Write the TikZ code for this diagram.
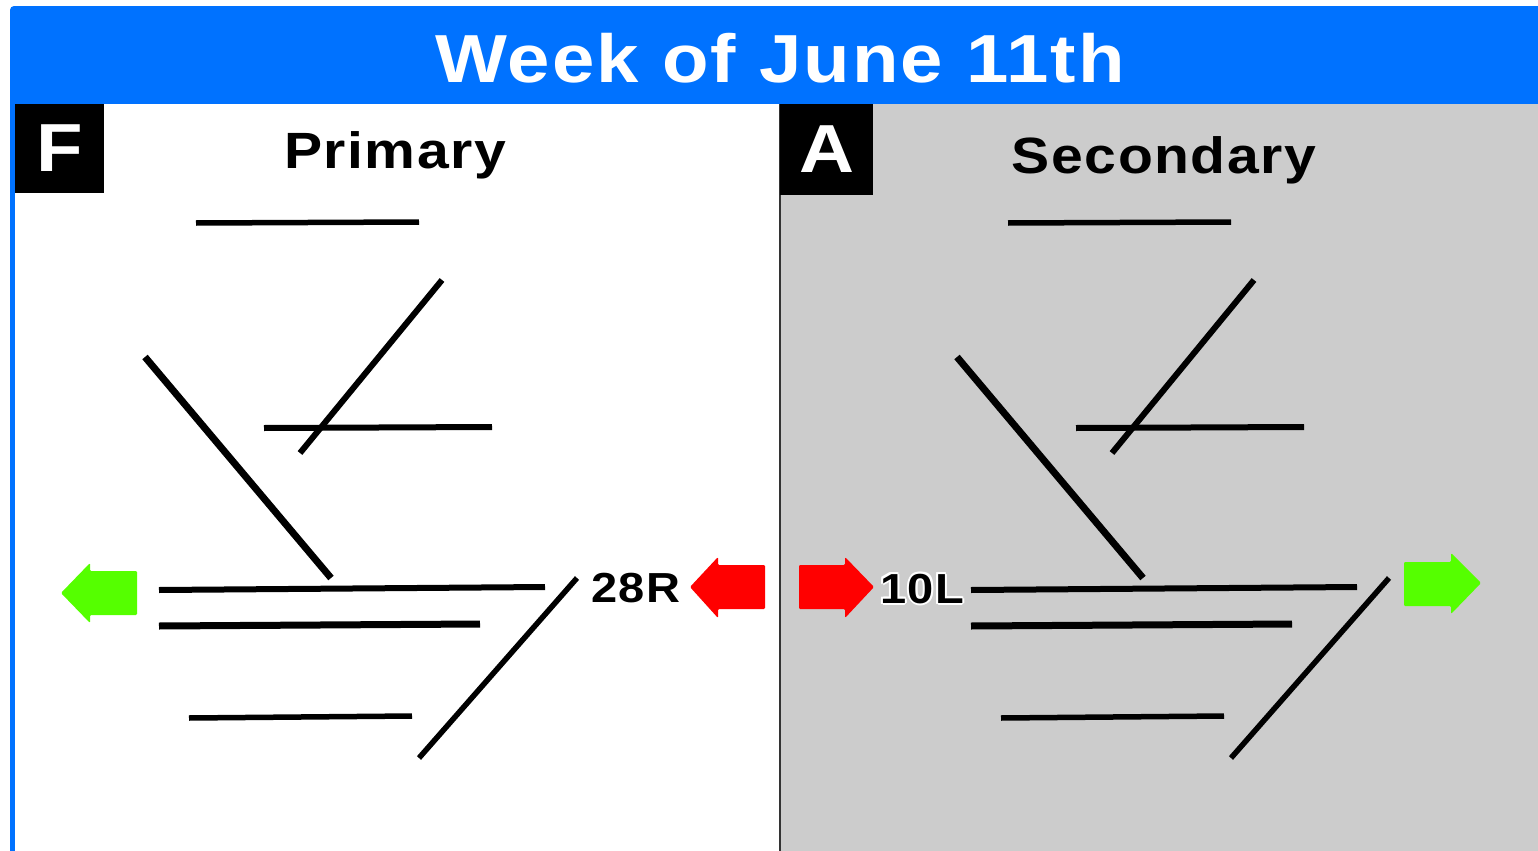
\documentclass[tikz,border=0pt]{standalone}
\usepackage{fontspec}
\setmainfont{Liberation Sans}[LetterSpace=3, FakeStretch=1.12]
\usepackage{tikz}
\usetikzlibrary{calc}
\definecolor{headblue}{RGB}{0,114,255}
\definecolor{padgray}{RGB}{204,204,204}
\definecolor{windgreen}{RGB}{85,255,0}
\definecolor{flowred}{RGB}{255,0,0}
\tikzset{
  runway/.style = {line width=2.75pt, black},
  windarrow/.style = {fill=windgreen, rounded corners=0.6pt},
  flowarrow/.style = {fill=flowred, rounded corners=0.6pt},
  tagbox/.style = {fill=black, text=white, inner sep=0pt, font=\bfseries\fontsize{34}{40}\selectfont},
  lbl/.style = {inner sep=0pt, anchor=base, font=\bfseries\fontsize{21}{24}\selectfont}
}
\begin{document}
\begin{tikzpicture}[x = .5pt, y = -.5pt]
    \useasboundingbox (0,0) rectangle (1538,851);
    \fill[headblue, rounded corners=2pt] (10,6) rectangle (1570,890);
    \fill[white] (15,104) rectangle (779,851);
    \fill[padgray] (780,104) rectangle (1538,851);
    \draw[line width=1pt, black!80] (779.5,104) -- (779.5,851);
    \node[inner sep=0pt, anchor=base, text=white, font=\bfseries\fontsize{34}{40}\selectfont] (title) at (780,82) {Week of June 11th};
    \node[tagbox, minimum width=44.5pt, minimum height=44.5pt] (fbox) at (59.5,148.5) {F};
    \node[tagbox, minimum width=46.5pt, minimum height=45.5pt] (abox) at (826.5,149.5) {A};
    \node[lbl, font=\bfseries\fontsize{25.5}{30}\selectfont] (primary) at (395,168) {Primary};
    \node[lbl, font=\bfseries\fontsize{25.5}{30}\selectfont] (secondary) at (1164,173) {Secondary};
    % primary runways
    \draw[runway] (196,223) -- (419,222);
    \draw[runway, line width=3pt] (442,280) -- (300,453);
    \draw[runway, line width=3pt] (264,428) -- (492,427);
    \draw[runway, line width=3.5pt] (145,357) -- (331,578);
    \draw[runway, line width=3pt] (159,590) -- (545,587);
    \draw[runway, line width=3.5pt] (159,626) -- (480,624);
    \draw[runway] (189,718) -- (412,716);
    \draw[runway] (419,758) -- (577,578);
    % secondary runways
    \draw[runway] (1008,223) -- (1231,222);
    \draw[runway, line width=3pt] (1254,280) -- (1112,453);
    \draw[runway, line width=3pt] (1076,428) -- (1304,427);
    \draw[runway, line width=3.5pt] (957,357) -- (1143,578);
    \draw[runway, line width=3pt] (971,590) -- (1357,587);
    \draw[runway, line width=3.5pt] (971,626) -- (1292,624);
    \draw[runway] (1001,718) -- (1224,716);
    \draw[runway] (1231,758) -- (1389,578);
    % arrows
    \fill[windarrow] (137,571) -- (90,571) -- (90,563) -- (61,593) -- (90,623) -- (90,615) -- (137,615) -- cycle;
    \fill[flowarrow] (765,565) -- (718,565) -- (718,557) -- (690,587) -- (718,618) -- (718,609) -- (765,609) -- cycle;
    \fill[flowarrow] (799,565) -- (845,565) -- (845,557) -- (874,587) -- (845,618) -- (845,609) -- (799,609) -- cycle;
    \fill[windarrow] (1404,562) -- (1451,562) -- (1451,553) -- (1481,583) -- (1451,614) -- (1451,606) -- (1404,606) -- cycle;
    \node[lbl] (lblR) at (636,602) {28R};
    \foreach \a in {0,45,...,315}
        \node[lbl, text=white] at ($(922,603)+(\a:2)$) {10L};
    \node[lbl] (lblL) at (922,603) {10L};
\end{tikzpicture}
\end{document}
